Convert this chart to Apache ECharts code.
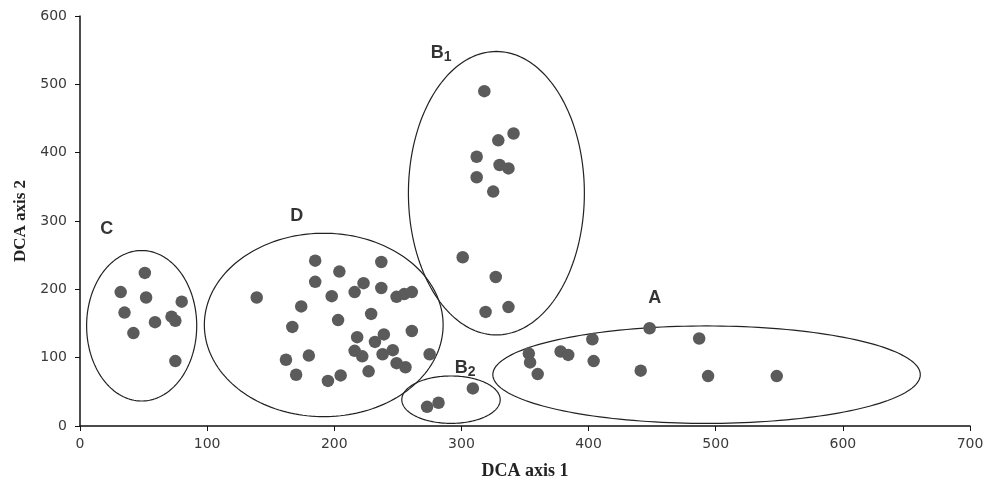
<!DOCTYPE html>
<html>
<head>
<meta charset="utf-8">
<script src="https://cdn.jsdelivr.net/npm/echarts@6/dist/echarts.min.js"></script>
<style>html,body{margin:0;padding:0;background:#fff}#c{width:989px;height:479px}</style>
</head>
<body>
<div id="c"></div>
<script>
// Sample scores (DCA axis 1, DCA axis 2), grouped by cluster
const groupC = [[51,224],[32,196],[52,188],[80,182],[35,166],[59,152],[72,160],[75,154],[42,136],[75,95]];
const groupD = [[139,188],[185,242],[185,211],[204,226],[198,190],[174,175],[203,155],[167,145],[162,97],[180,103],
  [170,75],[195,66],[205,74],[237,240],[223,209],[216,196],[237,202],[249,189],[255,193],[261,196],
  [229,164],[261,139],[218,130],[239,134],[232,123],[216,110],[222,102],[238,105],[246,111],[249,92],
  [256,86],[275,105],[227,80]];
const groupB1 = [[318,490],[341,428],[329,418],[312,394],[330,382],[337,377],[312,364],[325,343],[301,247],[327,218],[319,167],[337,174]];
const groupB2 = [[273,28],[282,34],[309,55]];
const groupA = [[353,106],[354,93],[378,109],[384,104],[360,76],[403,127],[404,95],[448,143],[487,128],[441,81],[494,73],[548,73]];
// Cluster ellipses: [centre x, centre y, radius x, radius y]
const ellipses = [[48.5,146.7,43.3,110.1],[191.7,147.9,93.9,134.2],[327.5,340.7,69.2,207.4],[291.8,38.5,38.7,34.7],[492.8,75.1,168.1,71.3]];
// Cluster labels: [x, y, label]
const clusterLabels = [[21,288,'C'],[170.5,307.5,'D'],[284,546,'B1'],[303,85,'B2'],[452,187,'A']];
const xTicks = {min:0,max:700,interval:100};
const yTicks = {min:0,max:600,interval:100};

const chart = echarts.init(document.getElementById('c'));
const allPoints = groupC.concat(groupD, groupB1, groupB2, groupA);
const tickLabel = {color:'#3a3a3a',fontFamily:'DejaVu Sans',fontSize:14};
chart.setOption({
  animation:false,
  backgroundColor:'#fff',
  grid:{left:80,right:19,top:16,bottom:53,containLabel:false,outerBoundsMode:'none'},
  xAxis:{type:'value',min:xTicks.min,max:xTicks.max,interval:xTicks.interval,
    name:'DCA axis 1',nameLocation:'middle',nameGap:36,
    nameTextStyle:{fontFamily:'Liberation Serif',fontWeight:'bold',fontSize:18,color:'#222'},
    axisLine:{onZero:false,lineStyle:{color:'#111',width:1.5}},
    axisTick:{show:true,length:5,lineStyle:{color:'#111'}},
    axisLabel:Object.assign({margin:11},tickLabel),
    splitLine:{show:false}},
  yAxis:{type:'value',min:yTicks.min,max:yTicks.max,interval:yTicks.interval,
    name:'DCA axis 2',nameLocation:'middle',nameGap:51,
    nameTextStyle:{fontFamily:'Liberation Serif',fontWeight:'bold',fontSize:17,color:'#222'},
    axisLine:{show:true,onZero:false,lineStyle:{color:'#111',width:1.5}},
    axisTick:{show:true,length:5,lineStyle:{color:'#111'}},
    axisLabel:Object.assign({margin:13},tickLabel),
    splitLine:{show:false}},
  series:[
    {type:'custom',silent:true,data:ellipses,z:1,
      renderItem:function(params,api){
        const c = api.coord([api.value(0),api.value(1)]);
        const s = api.size([api.value(2),api.value(3)]);
        const pts = [];
        for(let i=0;i<180;i++){const t=i/180*Math.PI*2;pts.push([c[0]+s[0]*Math.cos(t),c[1]+s[1]*Math.sin(t)]);}
        return {type:'polygon',shape:{points:pts},style:{fill:'none',stroke:'#222',lineWidth:1.2}};
      }},
    {type:'scatter',data:allPoints,symbol:'circle',symbolSize:12.5,z:3,
      itemStyle:{color:'#5b5b5b',opacity:1}},
    {type:'scatter',data:clusterLabels,symbolSize:0,z:4,silent:true,
      label:{show:true,position:'inside',
        formatter:function(p){const t=p.value[2];return t.length>1?'{b|'+t[0]+'}{s|'+t.slice(1)+'}':'{b|'+t+'}';},
        rich:{b:{fontFamily:'Liberation Sans',fontWeight:'bold',fontSize:18,color:'#000'},
              s:{fontFamily:'Liberation Sans',fontWeight:'bold',fontSize:14,color:'#000',padding:[8,0,0,0]}}}}
  ]
});
</script>
</body>
</html>
